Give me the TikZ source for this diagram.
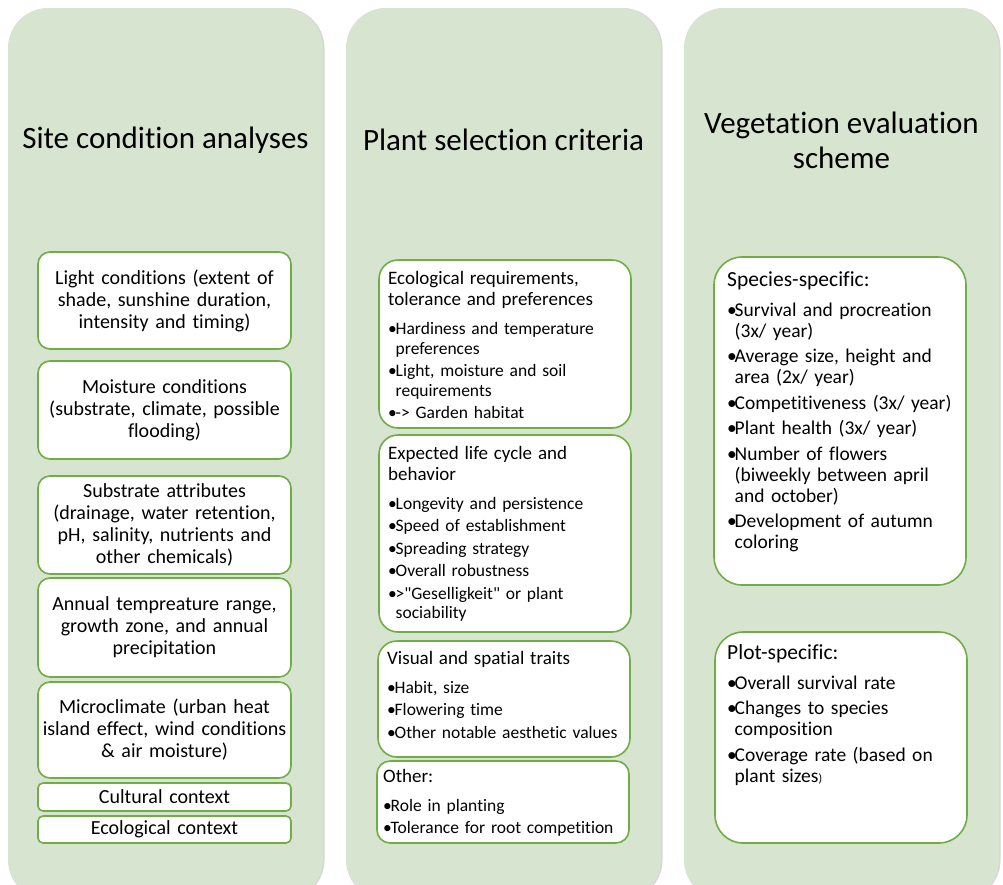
\documentclass[tikz,border=0pt]{standalone}
\usepackage{fontspec}
\setmainfont{Carlito}[Ligatures={TeXOff,NoCommon},RawFeature={-liga;-clig;-calt;-dlig}]
\definecolor{colbg}{HTML}{D7E4CF}
\definecolor{gbord}{HTML}{70AD47}
\newlength\bind
\setlength\bind{7.5pt}
\newcommand\hdtwo[1]{{\fontsize{19}{21}\selectfont #1\par}\vspace{9.5pt}}
\newcommand\hdthree[1]{{\fontsize{21.5}{23}\selectfont #1\par}\vspace{9pt}}
\newcommand\bul[1]{\par\hangindent=\bind\hangafter=1\noindent\makebox[\bind][l]{•}{\let\\\newline #1}\par}
\newcommand\bitwo[1]{\bul{#1}\vspace{3pt}}
\newcommand\bithree[1]{\bul{#1}\vspace{4.5pt}}
\tikzset{
  colshape/.style={fill=colbg, rounded corners=40pt, inner sep=0pt, outer sep=0pt,
     minimum width=315pt, minimum height=892pt, anchor=north west},
  boxone/.style={draw=gbord, fill=white, line width=1.6pt, rounded corners=12pt,
     inner sep=0pt, outer sep=0pt, anchor=north west, minimum width=253pt,
     align=center, text width=250pt, font=\fontsize{20}{22}\selectfont},
  smallbox/.style={boxone, rounded corners=5pt},
  boxtwo/.style={draw=gbord, fill=white, line width=1.6pt, rounded corners=19pt,
     inner sep=0pt, outer sep=0pt, anchor=north west, minimum width=252pt},
  boxthree/.style={boxtwo, rounded corners=28pt},
  txttwo/.style={anchor=base west, inner sep=0pt, text width=240pt, align=left,
     font=\fontsize{17.5}{19.5}\selectfont},
  txtthree/.style={anchor=base west, inner sep=0pt, text width=235pt, align=left,
     font=\fontsize{19.5}{21}\selectfont},
  title/.style={align=center, inner sep=0pt, font=\fontsize{31}{35}\selectfont}
}
\begin{document}
\begin{tikzpicture}[x=1pt, y=-1pt]
\useasboundingbox (0,0) rectangle (1003,884);
\begin{scope}
\clip (0,0) rectangle (1003,884);
\foreach \cx in {8,346,684}{
  \fill[black!16, rounded corners=40pt] (\cx+1.5,8) rectangle ++(315,892);
}
\node[colshape] (c1) at (8,8) {};
\node[colshape] (c2) at (346,8) {};
\node[colshape] (c3) at (684,8) {};
\end{scope}

% titles
\node[title] (t1) at (165.5,140) {Site condition analyses};
\node[title] (t2) at (503.5,140) {Plant selection criteria};
\node[title] (t3) at (841.5,140) {Vegetation evaluation\\scheme};

% column 1
\node[boxone, minimum height=97pt] (a1) at (38,252) {Light conditions (extent of\\shade, sunshine duration,\\intensity and timing)};
\node[boxone, minimum height=98pt] (a2) at (38,361) {Moisture conditions\\(substrate, climate, possible\\flooding)};
\node[boxone, minimum height=98pt] (a3) at (38,476) {Substrate attributes\\(drainage, water retention,\\pH, salinity, nutrients and\\other chemicals)};
\node[boxone, minimum height=99pt] (a4) at (38,578) {Annual tempreature range,\\growth zone, and annual\\precipitation};
\node[boxone, minimum height=96pt] (a5) at (38,682) {Microclimate (urban heat\\island effect, wind conditions\\\& air moisture)};
\node[smallbox, minimum height=28pt] (a6) at (38,783) {Cultural context};
\node[smallbox, minimum height=27pt] (a7) at (38,816) {Ecological context};

% column 2
\node[boxtwo, minimum height=168pt] (b1) at (379,260) {};
\node[boxtwo, minimum height=197pt] (b2) at (379,435) {};
\node[boxtwo, minimum height=116pt] (b3) at (378,641) {};
\node[boxtwo, minimum height=82pt, rounded corners=13pt] (b4) at (377,761) {};

\node[txttwo] (b1t) at (388,284.5) {\hdtwo{Ecological requirements,\\tolerance and preferences}%
\bitwo{Hardiness and temperature\\preferences}%
\bitwo{Light, moisture and soil\\requirements}%
\bitwo{-> Garden habitat}};
\node[txttwo] (b2t) at (388,459) {\hdtwo{Expected life cycle and\\behavior}%
\bitwo{Longevity and persistence}%
\bitwo{Speed of establishment}%
\bitwo{Spreading strategy}%
\bitwo{Overall robustness}%
\bitwo{>"Geselligkeit" or plant\\sociability}};
\node[txttwo] (b3t) at (387,664) {\hdtwo{Visual and spatial traits}%
\bitwo{Habit, size}%
\bitwo{Flowering time}%
\bitwo{Other notable aesthetic values}};
\node[txttwo] (b4t) at (383,782) {\hdtwo{Other:}%
\bitwo{Role in planting}%
\bitwo{Tolerance for root competition}};

% column 3
\node[boxthree, minimum height=328pt] (s1) at (714,257) {};
\node[boxthree, minimum height=211pt] (s2) at (715,632) {};
\node[txtthree] (s1t) at (727,286) {\hdthree{Species-specific:}%
\bithree{Survival and procreation\\(3x/ year)}%
\bithree{Average size, height and\\area (2x/ year)}%
\bithree{Competitiveness (3x/ year)}%
\bithree{Plant health (3x/ year)}%
\bithree{Number of flowers\\(biweekly between april\\and october)}%
\bithree{Development of autumn\\coloring}};
\node[txtthree] (s2t) at (727,659) {\hdthree{Plot-specific:}%
\bithree{Overall survival rate}%
\bithree{Changes to species\\composition}%
\bithree{Coverage rate (based on\\plant sizes{\fontsize{12}{14}\selectfont )}}};
\end{tikzpicture}
\end{document}
